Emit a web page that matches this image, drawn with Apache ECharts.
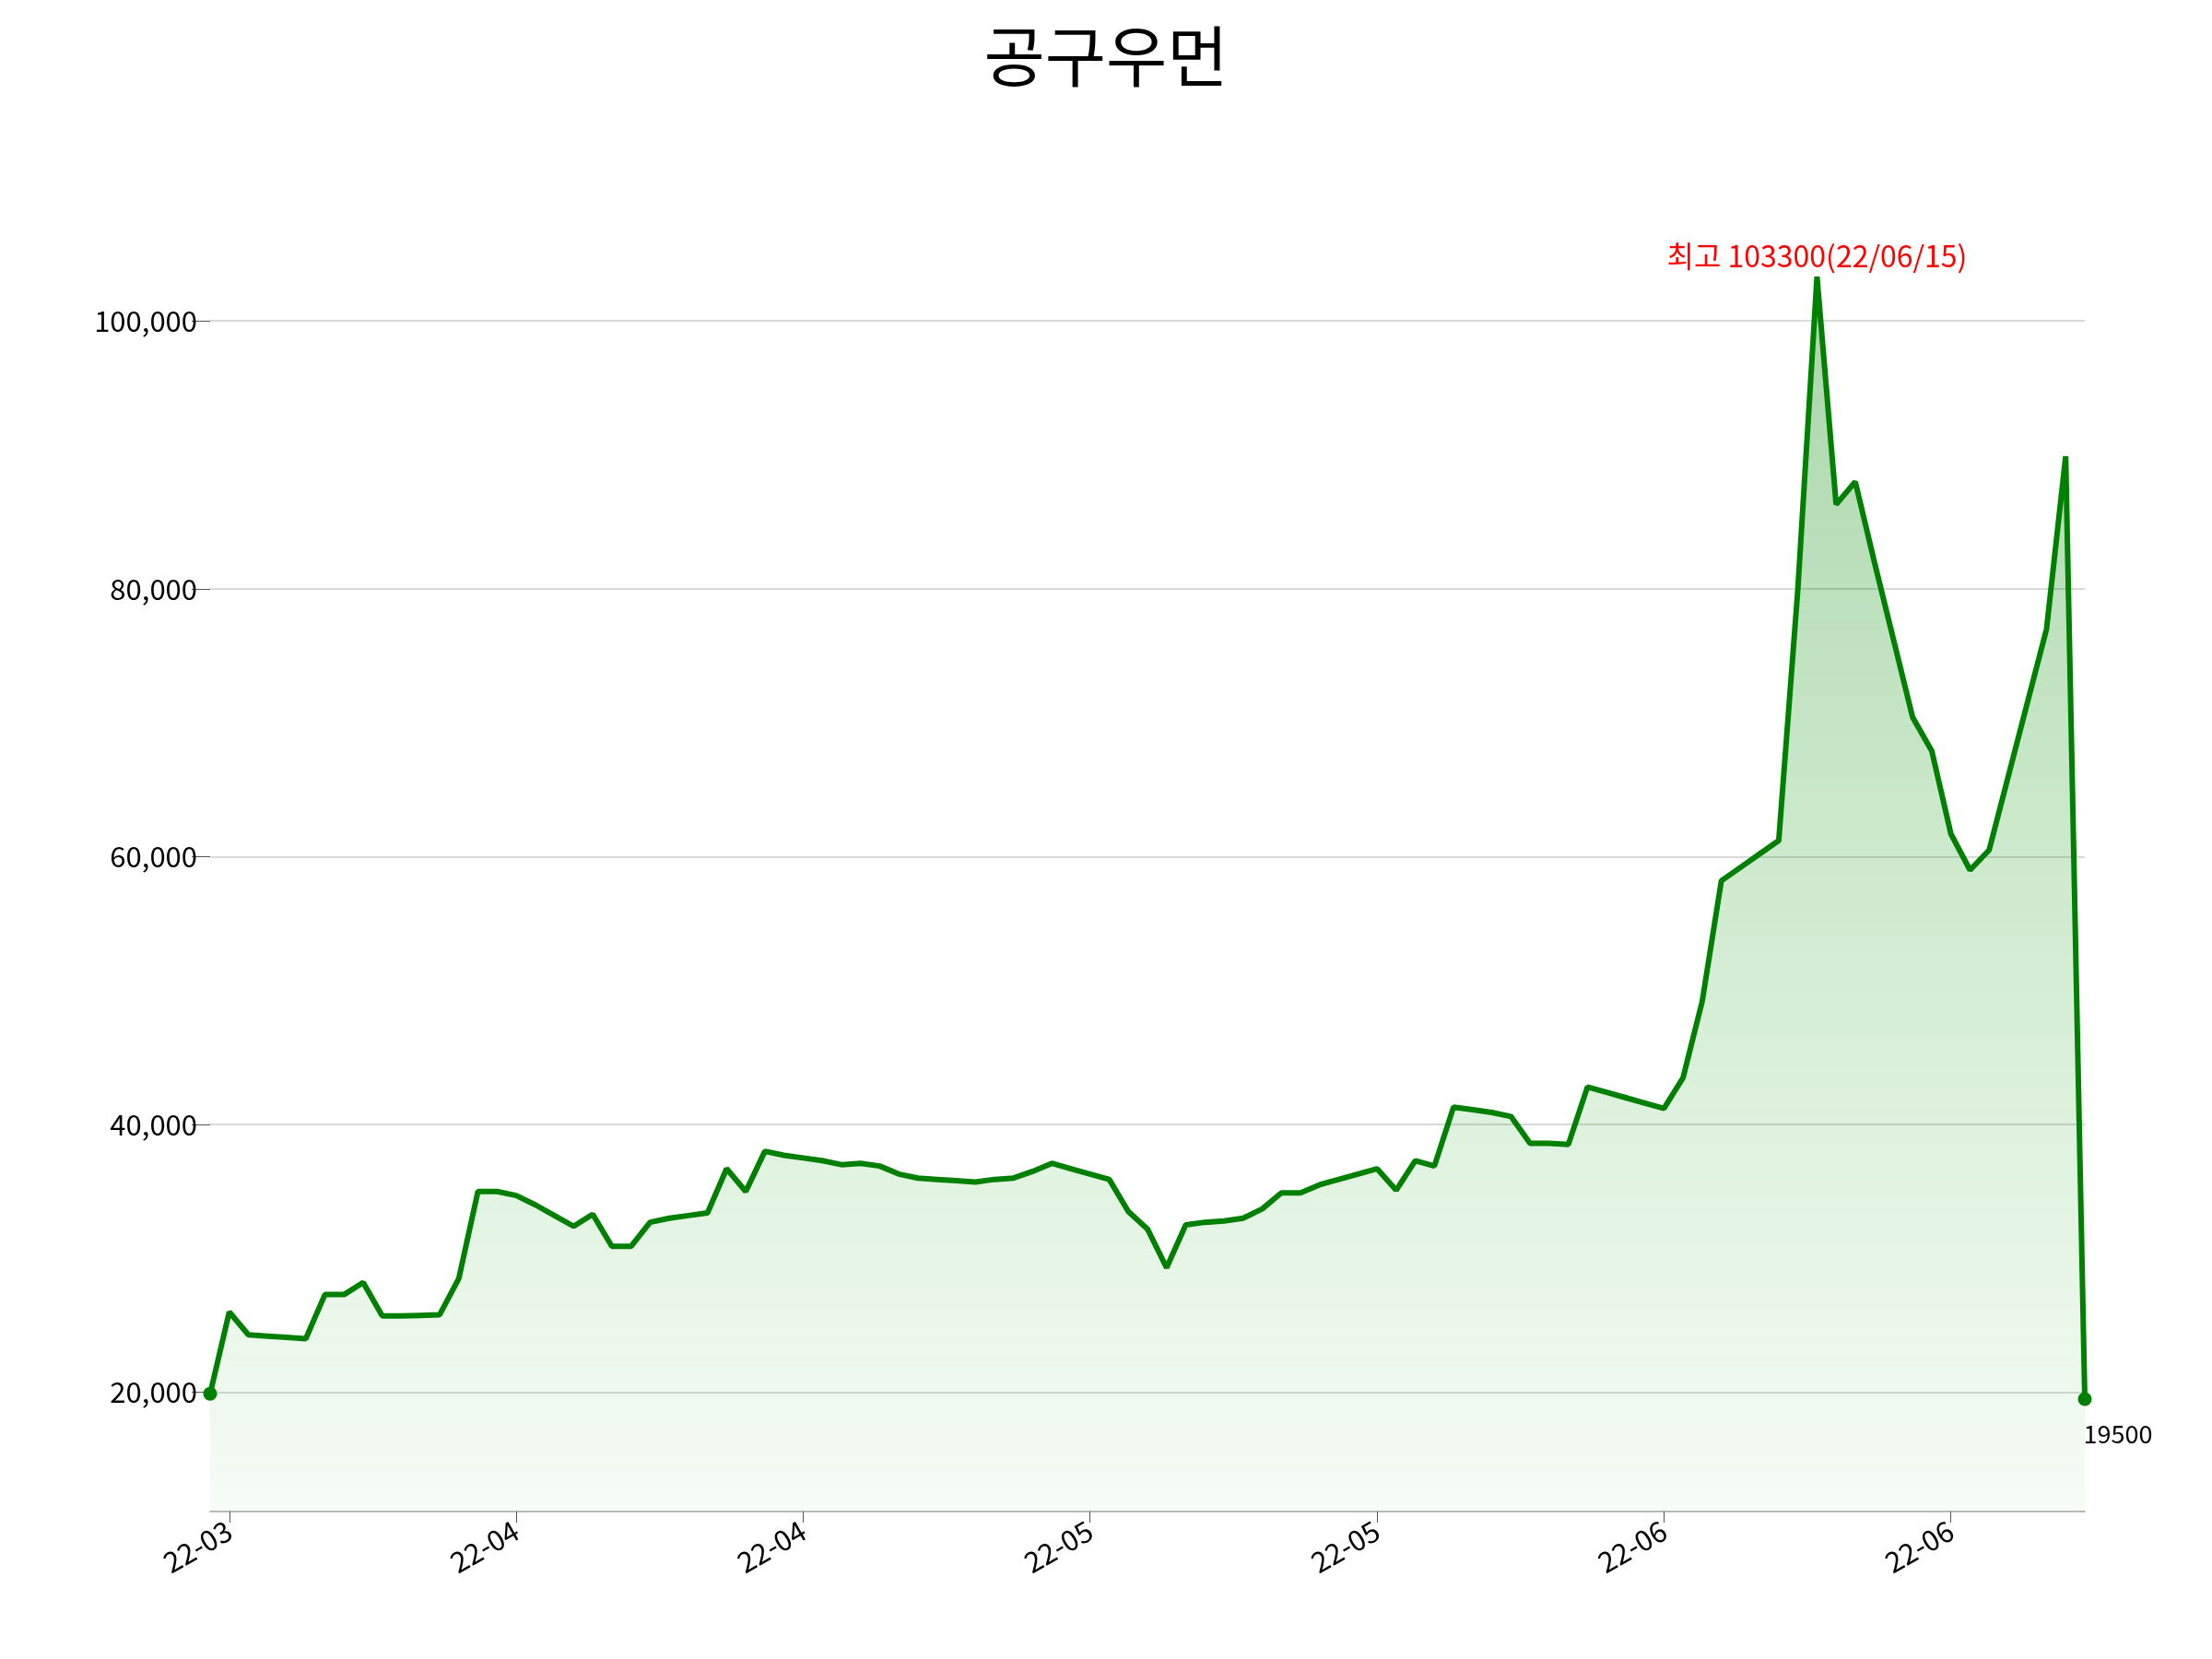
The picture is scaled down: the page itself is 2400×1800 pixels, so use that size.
<!DOCTYPE html>
<html><head><meta charset="utf-8">
<script src="https://cdn.jsdelivr.net/npm/echarts@6/dist/echarts.min.js"></script>
<style>html,body{margin:0;padding:0;background:#fff}#c{width:2400px;height:1800px}</style>
</head><body><div id="c"></div>
<script>
const values = [19900,26000,24300,24200,24100,24000,27300,27300,28200,25700,25700,25750,25800,28500,35000,35000,34700,34000,33200,32400,33300,30900,30900,32700,33000,33200,33400,36700,35000,38000,37700,37500,37300,37000,37100,36900,36300,36000,35900,35800,35700,35900,36000,36500,37100,36700,36300,35900,33500,32200,29300,32500,32700,32800,33000,33700,34900,34900,35500,35900,36300,36700,35100,37300,36900,41300,41100,40900,40600,38600,38600,38500,42800,42400,42000,41600,41200,43500,49200,58200,59200,60200,61200,80000,103300,86300,88000,82000,76200,70400,67900,61700,59000,60500,66000,71500,77000,89900,19500];
const tickIdx = [1,16,31,46,61,76,91];
const tickLabels = ['22-03','22-04','22-04','22-05','22-05','22-06','22-06'];
const yTicks = [20000,40000,60000,80000,100000];
const maxLabel = '최고 103300(22/06/15)';
const categories = values.map((v,i)=>String(i));
const peak = values.indexOf(Math.max(...values));
const last = values.length-1;
const chart = echarts.init(document.getElementById('c'));
chart.setOption({
  animation:false,
  title:{text:'공구우먼',left:'center',top:20,textStyle:{fontSize:72,fontWeight:'normal',color:'#000',fontFamily:'Noto Sans CJK KR'}},
  grid:{left:228,right:138,top:232,bottom:160},
  xAxis:{type:'category',data:categories,boundaryGap:false,
    axisLine:{lineStyle:{color:'#bbb',width:2}},
    axisTick:{customValues:tickIdx,length:12,lineStyle:{color:'#555'}},
    axisLabel:{customValues:tickIdx,rotate:30,fontSize:31,color:'#000',margin:18,fontFamily:'Noto Sans CJK KR',
      formatter:(v)=>tickLabels[tickIdx.indexOf(+v)]||''},
    splitLine:{show:false}},
  yAxis:{type:'value',min:11100,max:108000,
    axisLine:{show:false},
    axisTick:{show:true,customValues:yTicks,length:20,lineStyle:{color:'#555'}},
    axisLabel:{customValues:yTicks,fontSize:31,color:'#000',margin:14,fontFamily:'Noto Sans CJK KR',
      formatter:(v)=>v.toLocaleString('en-US')},
    splitLine:{show:true,lineStyle:{color:'#ccc',width:1.5}}},
  series:[{type:'line',data:values,symbol:'none',
    lineStyle:{color:'#008000',width:6},
    areaStyle:{color:new echarts.graphic.LinearGradient(0,0,0,1,[{offset:0,color:'rgba(0,128,0,0.48)'},{offset:1,color:'rgba(0,160,0,0.05)'}])},
    markPoint:{symbol:'circle',symbolSize:15,itemStyle:{color:'#008000'},
      data:[
        {coord:[String(0),values[0]]},
        {coord:[String(last),values[last]],label:{show:true,formatter:String(values[last]),position:'bottom',offset:[36,12],fontSize:27,color:'#000',fontFamily:'Noto Sans CJK KR'}},
        {coord:[String(peak),values[peak]],symbolSize:0,label:{show:true,formatter:maxLabel,position:'top',distance:6,fontSize:32,color:'#ff0000',fontFamily:'Noto Sans CJK KR'}}
      ],
      label:{show:false}}
  }]
});
</script></body></html>
